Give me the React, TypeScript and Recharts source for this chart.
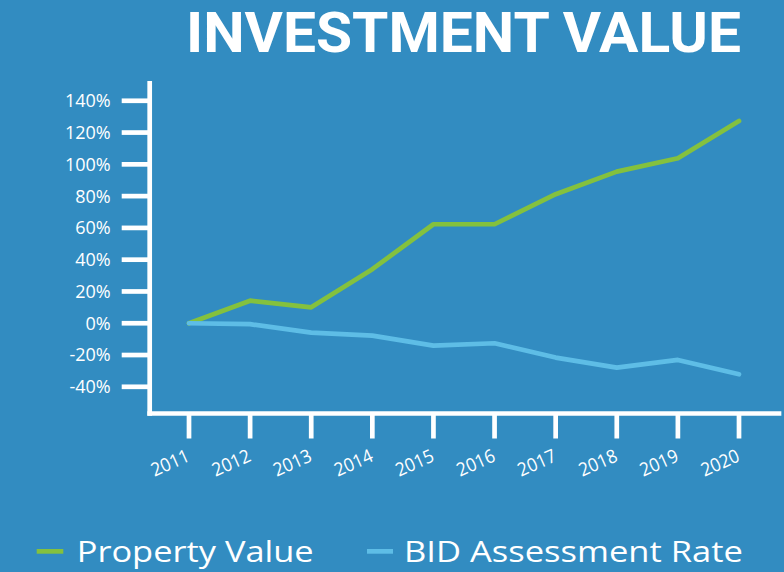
import React from 'react';
import { LineChart, Line, XAxis, YAxis, Legend } from 'recharts';

const years = ['2011', '2012', '2013', '2014', '2015', '2016', '2017', '2018', '2019', '2020'];
const propertyValue = [0, 14.2, 10, 34, 62.3, 62.3, 81.2, 95.4, 103.8, 127.3];
const bidAssessmentRate = [0, -0.6, -5.9, -7.8, -14.1, -12.6, -21.6, -27.9, -23.1, -32.1];
const yTicks = [-40, -20, 0, 20, 40, 60, 80, 100, 120, 140];

const data = years.map((y, i) => ({
  year: y,
  property: propertyValue[i],
  bid: bidAssessmentRate[i],
}));

const BG = '#328CC1';
const GREEN = '#84C13E';
const LIGHTBLUE = '#5EBDE6';
const FONT = '"Open Sans", sans-serif';

const XTick = (props: any) => {
  const { x, y, payload } = props;
  const ax = x + 2;
  const ay = y + 20;
  return (
    <text
      x={ax}
      y={ay}
      textAnchor="end"
      fill="#fff"
      fontFamily={FONT}
      fontSize={18.5}
      textLength={40}
      lengthAdjust="spacingAndGlyphs"
      transform={`rotate(-24, ${ax}, ${ay})`}
    >
      {payload.value}
    </text>
  );
};

const LegendContent = () => (
  <svg width={784} height={47} style={{ display: 'block' }}>
    <rect x={36.7} y={24} width={26.6} height={4.7} fill={GREEN} />
    <text x={76.7} y={36.7} fill="#fff" fontFamily={FONT} fontSize={30} textLength={237} lengthAdjust="spacingAndGlyphs">
      Property Value
    </text>
    <rect x={367} y={24} width={26} height={4.7} fill={LIGHTBLUE} />
    <text x={404} y={36.7} fill="#fff" fontFamily={FONT} fontSize={30} textLength={339} lengthAdjust="spacingAndGlyphs">
      BID Assessment Rate
    </text>
  </svg>
);

export default function App() {
  return (
    <div style={{ position: 'absolute', left: 0, top: 0, width: 784, height: 572, background: BG, overflow: 'hidden' }}>
      <svg width={784} height={70} style={{ position: 'absolute', left: 0, top: 0 }}>
        <text
          x={186}
          y={52.3}
          fill="#fff"
          fontFamily="Roboto, sans-serif"
          fontWeight={700}
          fontSize={54.8}
          textLength={555}
          lengthAdjust="spacingAndGlyphs"
        >
          INVESTMENT VALUE
        </text>
      </svg>
      <LineChart
        width={784}
        height={572}
        data={data}
        margin={{ top: 83.3, right: 5, left: 0, bottom: 98.5 }}
        style={{ position: 'absolute', left: 0, top: 0 }}
      >
        <XAxis
          dataKey="year"
          height={60}
          padding={{ left: 39.3, right: 40 }}
          axisLine={{ stroke: '#fff', strokeWidth: 4.7, strokeLinecap: 'square' }}
          tickLine={{ stroke: '#fff', strokeWidth: 4.7 }}
          tickSize={25}
          tickMargin={2}
          tick={<XTick />}
          interval={0}
        />
        <YAxis
          width={149.7}
          domain={[-56.8, 151]}
          ticks={yTicks}
          allowDataOverflow
          tickFormatter={(v: number) => `${v}%`}
          axisLine={{ stroke: '#fff', strokeWidth: 4.7, strokeLinecap: 'square' }}
          tickLine={{ stroke: '#fff', strokeWidth: 4.7 }}
          tickSize={28}
          tickMargin={11}
          tick={{ fill: '#fff', fontFamily: FONT, fontSize: 18 }}
        />
        <Legend
          layout="horizontal"
          verticalAlign="middle"
          align="center"
          content={<LegendContent />}
          wrapperStyle={{ top: 525, left: 0, width: 784, height: 47 }}
        />
        <Line
          type="linear"
          dataKey="property"
          name="Property Value"
          stroke={GREEN}
          strokeWidth={4.7}
          strokeLinecap="round"
          strokeLinejoin="round"
          dot={false}
          isAnimationActive={false}
        />
        <Line
          type="linear"
          dataKey="bid"
          name="BID Assessment Rate"
          stroke={LIGHTBLUE}
          strokeWidth={4.7}
          strokeLinecap="round"
          strokeLinejoin="round"
          dot={false}
          isAnimationActive={false}
        />
      </LineChart>
    </div>
  );
}
